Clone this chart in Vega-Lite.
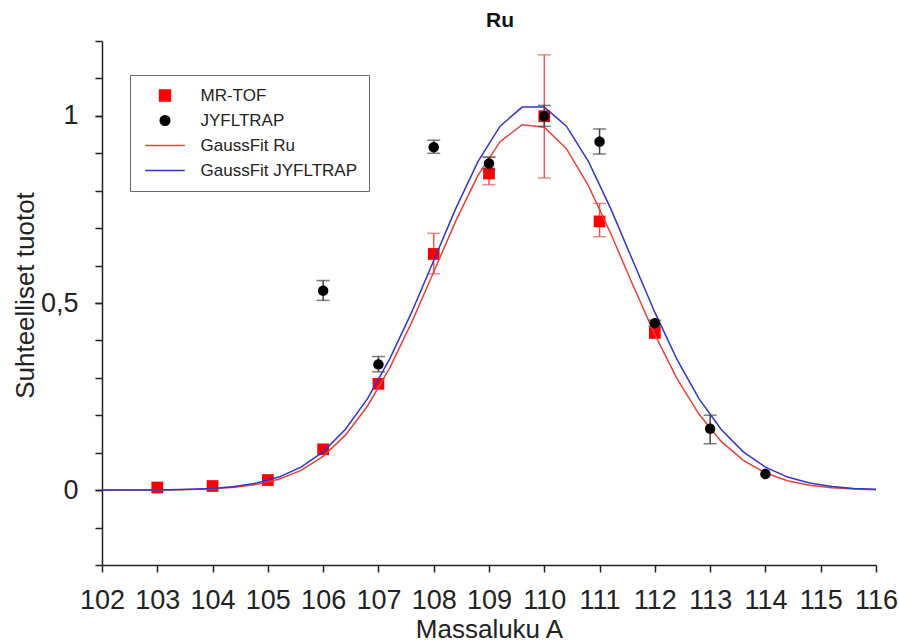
{
  "$schema": "https://vega.github.io/schema/vega-lite/v6.json",
  "width": 774,
  "height": 524,
  "autosize": {"type": "none"},
  "padding": {"left": 102, "top": 41, "right": 23, "bottom": 78},
  "background": "white",
  "title": {
    "text": "Ru",
    "font": "Liberation Sans",
    "fontSize": 21,
    "fontWeight": "bold",
    "color": "#111111",
    "anchor": "middle",
    "dx": 11,
    "offset": 9
  },
  "config": {
    "view": {"stroke": null},
    "font": "Liberation Sans",
    "axis": {"grid": false}
  },
  "resolve": {"axis": {"y": "independent"}},
  "datasets": {
    "fits": [
      {"A": 102.0, "y": 0.0, "series": "GaussFit Ru"},
      {"A": 102.4, "y": 0.0001, "series": "GaussFit Ru"},
      {"A": 102.8, "y": 0.0003, "series": "GaussFit Ru"},
      {"A": 103.2, "y": 0.0007, "series": "GaussFit Ru"},
      {"A": 103.6, "y": 0.0016, "series": "GaussFit Ru"},
      {"A": 104.0, "y": 0.0036, "series": "GaussFit Ru"},
      {"A": 104.4, "y": 0.0077, "series": "GaussFit Ru"},
      {"A": 104.8, "y": 0.0154, "series": "GaussFit Ru"},
      {"A": 105.2, "y": 0.0293, "series": "GaussFit Ru"},
      {"A": 105.6, "y": 0.0529, "series": "GaussFit Ru"},
      {"A": 106.0, "y": 0.0904, "series": "GaussFit Ru"},
      {"A": 106.4, "y": 0.1463, "series": "GaussFit Ru"},
      {"A": 106.8, "y": 0.2242, "series": "GaussFit Ru"},
      {"A": 107.2, "y": 0.3256, "series": "GaussFit Ru"},
      {"A": 107.6, "y": 0.4477, "series": "GaussFit Ru"},
      {"A": 108.0, "y": 0.583, "series": "GaussFit Ru"},
      {"A": 108.4, "y": 0.7195, "series": "GaussFit Ru"},
      {"A": 108.8, "y": 0.841, "series": "GaussFit Ru"},
      {"A": 109.2, "y": 0.931, "series": "GaussFit Ru"},
      {"A": 109.6, "y": 0.9762, "series": "GaussFit Ru"},
      {"A": 110.0, "y": 0.9697, "series": "GaussFit Ru"},
      {"A": 110.4, "y": 0.9123, "series": "GaussFit Ru"},
      {"A": 110.8, "y": 0.8129, "series": "GaussFit Ru"},
      {"A": 111.2, "y": 0.6862, "series": "GaussFit Ru"},
      {"A": 111.6, "y": 0.5486, "series": "GaussFit Ru"},
      {"A": 112.0, "y": 0.4156, "series": "GaussFit Ru"},
      {"A": 112.4, "y": 0.2981, "series": "GaussFit Ru"},
      {"A": 112.8, "y": 0.2026, "series": "GaussFit Ru"},
      {"A": 113.2, "y": 0.1303, "series": "GaussFit Ru"},
      {"A": 113.6, "y": 0.0795, "series": "GaussFit Ru"},
      {"A": 114.0, "y": 0.0459, "series": "GaussFit Ru"},
      {"A": 114.4, "y": 0.0251, "series": "GaussFit Ru"},
      {"A": 114.8, "y": 0.013, "series": "GaussFit Ru"},
      {"A": 115.2, "y": 0.0064, "series": "GaussFit Ru"},
      {"A": 115.6, "y": 0.003, "series": "GaussFit Ru"},
      {"A": 116.0, "y": 0.0013, "series": "GaussFit Ru"},
      {"A": 102.0, "y": 0.0001, "series": "GaussFit JYFLTRAP"},
      {"A": 102.4, "y": 0.0002, "series": "GaussFit JYFLTRAP"},
      {"A": 102.8, "y": 0.0004, "series": "GaussFit JYFLTRAP"},
      {"A": 103.2, "y": 0.001, "series": "GaussFit JYFLTRAP"},
      {"A": 103.6, "y": 0.0022, "series": "GaussFit JYFLTRAP"},
      {"A": 104.0, "y": 0.0047, "series": "GaussFit JYFLTRAP"},
      {"A": 104.4, "y": 0.0097, "series": "GaussFit JYFLTRAP"},
      {"A": 104.8, "y": 0.0189, "series": "GaussFit JYFLTRAP"},
      {"A": 105.2, "y": 0.0349, "series": "GaussFit JYFLTRAP"},
      {"A": 105.6, "y": 0.0613, "series": "GaussFit JYFLTRAP"},
      {"A": 106.0, "y": 0.1022, "series": "GaussFit JYFLTRAP"},
      {"A": 106.4, "y": 0.162, "series": "GaussFit JYFLTRAP"},
      {"A": 106.8, "y": 0.244, "series": "GaussFit JYFLTRAP"},
      {"A": 107.2, "y": 0.3492, "series": "GaussFit JYFLTRAP"},
      {"A": 107.6, "y": 0.4748, "series": "GaussFit JYFLTRAP"},
      {"A": 108.0, "y": 0.6134, "series": "GaussFit JYFLTRAP"},
      {"A": 108.4, "y": 0.7527, "series": "GaussFit JYFLTRAP"},
      {"A": 108.8, "y": 0.8777, "series": "GaussFit JYFLTRAP"},
      {"A": 109.2, "y": 0.9723, "series": "GaussFit JYFLTRAP"},
      {"A": 109.6, "y": 1.0234, "series": "GaussFit JYFLTRAP"},
      {"A": 110.0, "y": 1.0234, "series": "GaussFit JYFLTRAP"},
      {"A": 110.4, "y": 0.9723, "series": "GaussFit JYFLTRAP"},
      {"A": 110.8, "y": 0.8777, "series": "GaussFit JYFLTRAP"},
      {"A": 111.2, "y": 0.7527, "series": "GaussFit JYFLTRAP"},
      {"A": 111.6, "y": 0.6134, "series": "GaussFit JYFLTRAP"},
      {"A": 112.0, "y": 0.4748, "series": "GaussFit JYFLTRAP"},
      {"A": 112.4, "y": 0.3492, "series": "GaussFit JYFLTRAP"},
      {"A": 112.8, "y": 0.244, "series": "GaussFit JYFLTRAP"},
      {"A": 113.2, "y": 0.162, "series": "GaussFit JYFLTRAP"},
      {"A": 113.6, "y": 0.1022, "series": "GaussFit JYFLTRAP"},
      {"A": 114.0, "y": 0.0613, "series": "GaussFit JYFLTRAP"},
      {"A": 114.4, "y": 0.0349, "series": "GaussFit JYFLTRAP"},
      {"A": 114.8, "y": 0.0189, "series": "GaussFit JYFLTRAP"},
      {"A": 115.2, "y": 0.0097, "series": "GaussFit JYFLTRAP"},
      {"A": 115.6, "y": 0.0047, "series": "GaussFit JYFLTRAP"},
      {"A": 116.0, "y": 0.0022, "series": "GaussFit JYFLTRAP"}
    ],
    "obs": [
      {"A": 103, "y": 0.007, "lo": null, "hi": null, "series": "MR-TOF"},
      {"A": 104, "y": 0.011, "lo": null, "hi": null, "series": "MR-TOF"},
      {"A": 105, "y": 0.027, "lo": null, "hi": null, "series": "MR-TOF"},
      {"A": 106, "y": 0.109, "lo": null, "hi": null, "series": "MR-TOF"},
      {"A": 107, "y": 0.284, "lo": null, "hi": null, "series": "MR-TOF"},
      {"A": 108, "y": 0.631, "lo": 0.578, "hi": 0.686, "series": "MR-TOF"},
      {"A": 109, "y": 0.846, "lo": 0.816, "hi": 0.889, "series": "MR-TOF"},
      {"A": 110, "y": 0.999, "lo": 0.834, "hi": 1.163, "series": "MR-TOF"},
      {"A": 111, "y": 0.718, "lo": 0.677, "hi": 0.766, "series": "MR-TOF"},
      {"A": 112, "y": 0.42, "lo": null, "hi": null, "series": "MR-TOF"},
      {"A": 106, "y": 0.533, "lo": 0.507, "hi": 0.56, "series": "JYFLTRAP"},
      {"A": 107, "y": 0.336, "lo": 0.316, "hi": 0.357, "series": "JYFLTRAP"},
      {"A": 108, "y": 0.916, "lo": 0.9, "hi": 0.935, "series": "JYFLTRAP"},
      {"A": 109, "y": 0.873, "lo": 0.857, "hi": 0.89, "series": "JYFLTRAP"},
      {"A": 110, "y": 0.999, "lo": 0.972, "hi": 1.028, "series": "JYFLTRAP"},
      {"A": 111, "y": 0.931, "lo": 0.898, "hi": 0.965, "series": "JYFLTRAP"},
      {"A": 112, "y": 0.446, "lo": 0.438, "hi": 0.454, "series": "JYFLTRAP"},
      {"A": 113, "y": 0.164, "lo": 0.124, "hi": 0.2, "series": "JYFLTRAP"},
      {"A": 114, "y": 0.043, "lo": null, "hi": null, "series": "JYFLTRAP"}
    ]
  },
  "layer": [
    {
      "data": {"name": "obs"},
      "transform": [{"filter": "datum.series === 'MR-TOF' && isValid(datum.lo)"}],
      "mark": {"type": "errorbar", "color": "#e35b5b", "thickness": 1.5, "ticks": {"size": 13, "thickness": 1.5}},
      "encoding": {
        "x": {
          "field": "A",
          "type": "quantitative",
          "title": "Massaluku A",
          "scale": {"domain": [102, 116], "nice": false, "zero": false},
          "axis": {
            "values": [102, 103, 104, 105, 106, 107, 108, 109, 110, 111, 112, 113, 114, 115, 116],
            "format": "d",
            "labelFont": "Liberation Sans",
            "labelFontSize": 27,
            "labelColor": "#222222",
            "labelPadding": 15,
            "labelFlush": false,
            "labelOverlap": false,
            "tickSize": 7,
            "tickWidth": 1.5,
            "tickColor": "#222222",
            "domainColor": "#222222",
            "domainWidth": 1.5,
            "titleFont": "Liberation Sans",
            "titleFontSize": 26,
            "titleFontWeight": "normal",
            "titleColor": "#222222",
            "titleY": 72,
            "titleBaseline": "alphabetic",
            "grid": false
          }
        },
        "y": {
          "field": "lo",
          "type": "quantitative",
          "title": "Suhteelliset tuotot",
          "scale": {"domain": [-0.2, 1.2], "nice": false, "zero": false},
          "axis": {
            "orient": "left",
            "values": [0, 0.5, 1],
            "labelExpr": "datum.value === 0.5 ? '0,5' : datum.value === 0 ? '0' : '1'",
            "labelFont": "Liberation Sans",
            "labelFontSize": 27,
            "labelColor": "#222222",
            "labelPadding": 17,
            "labelFlush": false,
            "labelOverlap": false,
            "tickSize": 7,
            "tickWidth": 1.5,
            "tickColor": "#222222",
            "domainColor": "#222222",
            "domainWidth": 1.5,
            "titleFont": "Liberation Sans",
            "titleFontSize": 26,
            "titleFontWeight": "normal",
            "titleColor": "#222222",
            "titleAngle": -90,
            "titleAlign": "center",
            "titleBaseline": "alphabetic",
            "titleX": -69,
            "titleY": 254,
            "grid": false
          }
        },
        "y2": {"field": "hi"}
      }
    },
    {
      "data": {"name": "obs"},
      "transform": [{"filter": "datum.series === 'MR-TOF'"}],
      "mark": {"type": "point", "filled": true, "opacity": 1, "size": 170},
      "encoding": {
        "x": {"field": "A", "type": "quantitative", "title": "Massaluku A"},
        "y": {"field": "y", "type": "quantitative", "axis": null},
        "color": {
          "field": "series",
          "type": "nominal",
          "scale": {
            "domain": ["MR-TOF", "JYFLTRAP", "GaussFit Ru", "GaussFit JYFLTRAP"],
            "range": ["#ff0000", "#000000", "#e8413c", "#3333cc"]
          },
          "legend": {
            "title": null,
            "orient": "none",
            "legendX": 28,
            "legendY": 34,
            "direction": "vertical",
            "padding": 12,
            "rowPadding": 7,
            "symbolSize": 144,
            "symbolStrokeWidth": 1.5,
            "symbolOffset": 14.5,
            "labelOffset": 27,
            "labelExpr": "datum.label + '  '",
            "labelFont": "Liberation Sans",
            "labelFontSize": 17,
            "labelColor": "#222222",
            "fillColor": "white",
            "strokeColor": "#666666",
            "encode": {
              "legend": {"update": {"strokeWidth": {"value": 2}}},
              "symbols": {
                "update": {
                  "stroke": {"scale": "color", "field": "value"},
                  "fill": {"scale": "color", "field": "value"},
                  "opacity": {"signal": "indexof(datum.value, 'Gauss') === 0 ? 0.65 : 1"}
                }
              }
            }
          }
        },
        "shape": {
          "field": "series",
          "type": "nominal",
          "scale": {
            "domain": ["MR-TOF", "JYFLTRAP", "GaussFit Ru", "GaussFit JYFLTRAP"],
            "range": [
              "M-0.9,-0.9H0.9V0.9H-0.9Z",
              "M-0.8,0A0.8,0.8,0,1,0,0.8,0A0.8,0.8,0,1,0,-0.8,0Z",
              "M-3.3,0H3.3",
              "M-3.3,0H3.3"
            ]
          },
          "legend": {
            "title": null,
            "orient": "none",
            "legendX": 28,
            "legendY": 34
          }
        }
      }
    },
    {
      "data": {"name": "fits"},
      "mark": {"type": "line", "strokeWidth": 1.5},
      "encoding": {
        "x": {"field": "A", "type": "quantitative", "title": "Massaluku A"},
        "y": {
          "field": "y",
          "type": "quantitative",
          "axis": {
            "orient": "left",
            "title": null,
            "values": [-0.2, -0.1, 0, 0.1, 0.2, 0.3, 0.4, 0.5, 0.6, 0.7, 0.8, 0.9, 1, 1.1, 1.2],
            "labels": false,
            "domain": false,
            "tickSize": 7,
            "tickWidth": 1.5,
            "tickColor": "#222222",
            "grid": false
          }
        },
        "color": {"field": "series", "type": "nominal"}
      }
    },
    {
      "data": {"name": "obs"},
      "transform": [{"filter": "datum.series === 'JYFLTRAP' && isValid(datum.lo)"}],
      "mark": {"type": "errorbar", "color": "#444444", "thickness": 1.5, "ticks": {"size": 13, "thickness": 1.5}},
      "encoding": {
        "x": {"field": "A", "type": "quantitative", "title": "Massaluku A"},
        "y": {"field": "lo", "type": "quantitative", "axis": null},
        "y2": {"field": "hi"}
      }
    },
    {
      "data": {"name": "obs"},
      "transform": [{"filter": "datum.series === 'JYFLTRAP'"}],
      "mark": {"type": "point", "filled": true, "opacity": 1, "size": 170},
      "encoding": {
        "x": {"field": "A", "type": "quantitative", "title": "Massaluku A"},
        "y": {"field": "y", "type": "quantitative", "axis": null},
        "color": {"field": "series", "type": "nominal"},
        "shape": {"field": "series", "type": "nominal"}
      }
    }
  ]
}
